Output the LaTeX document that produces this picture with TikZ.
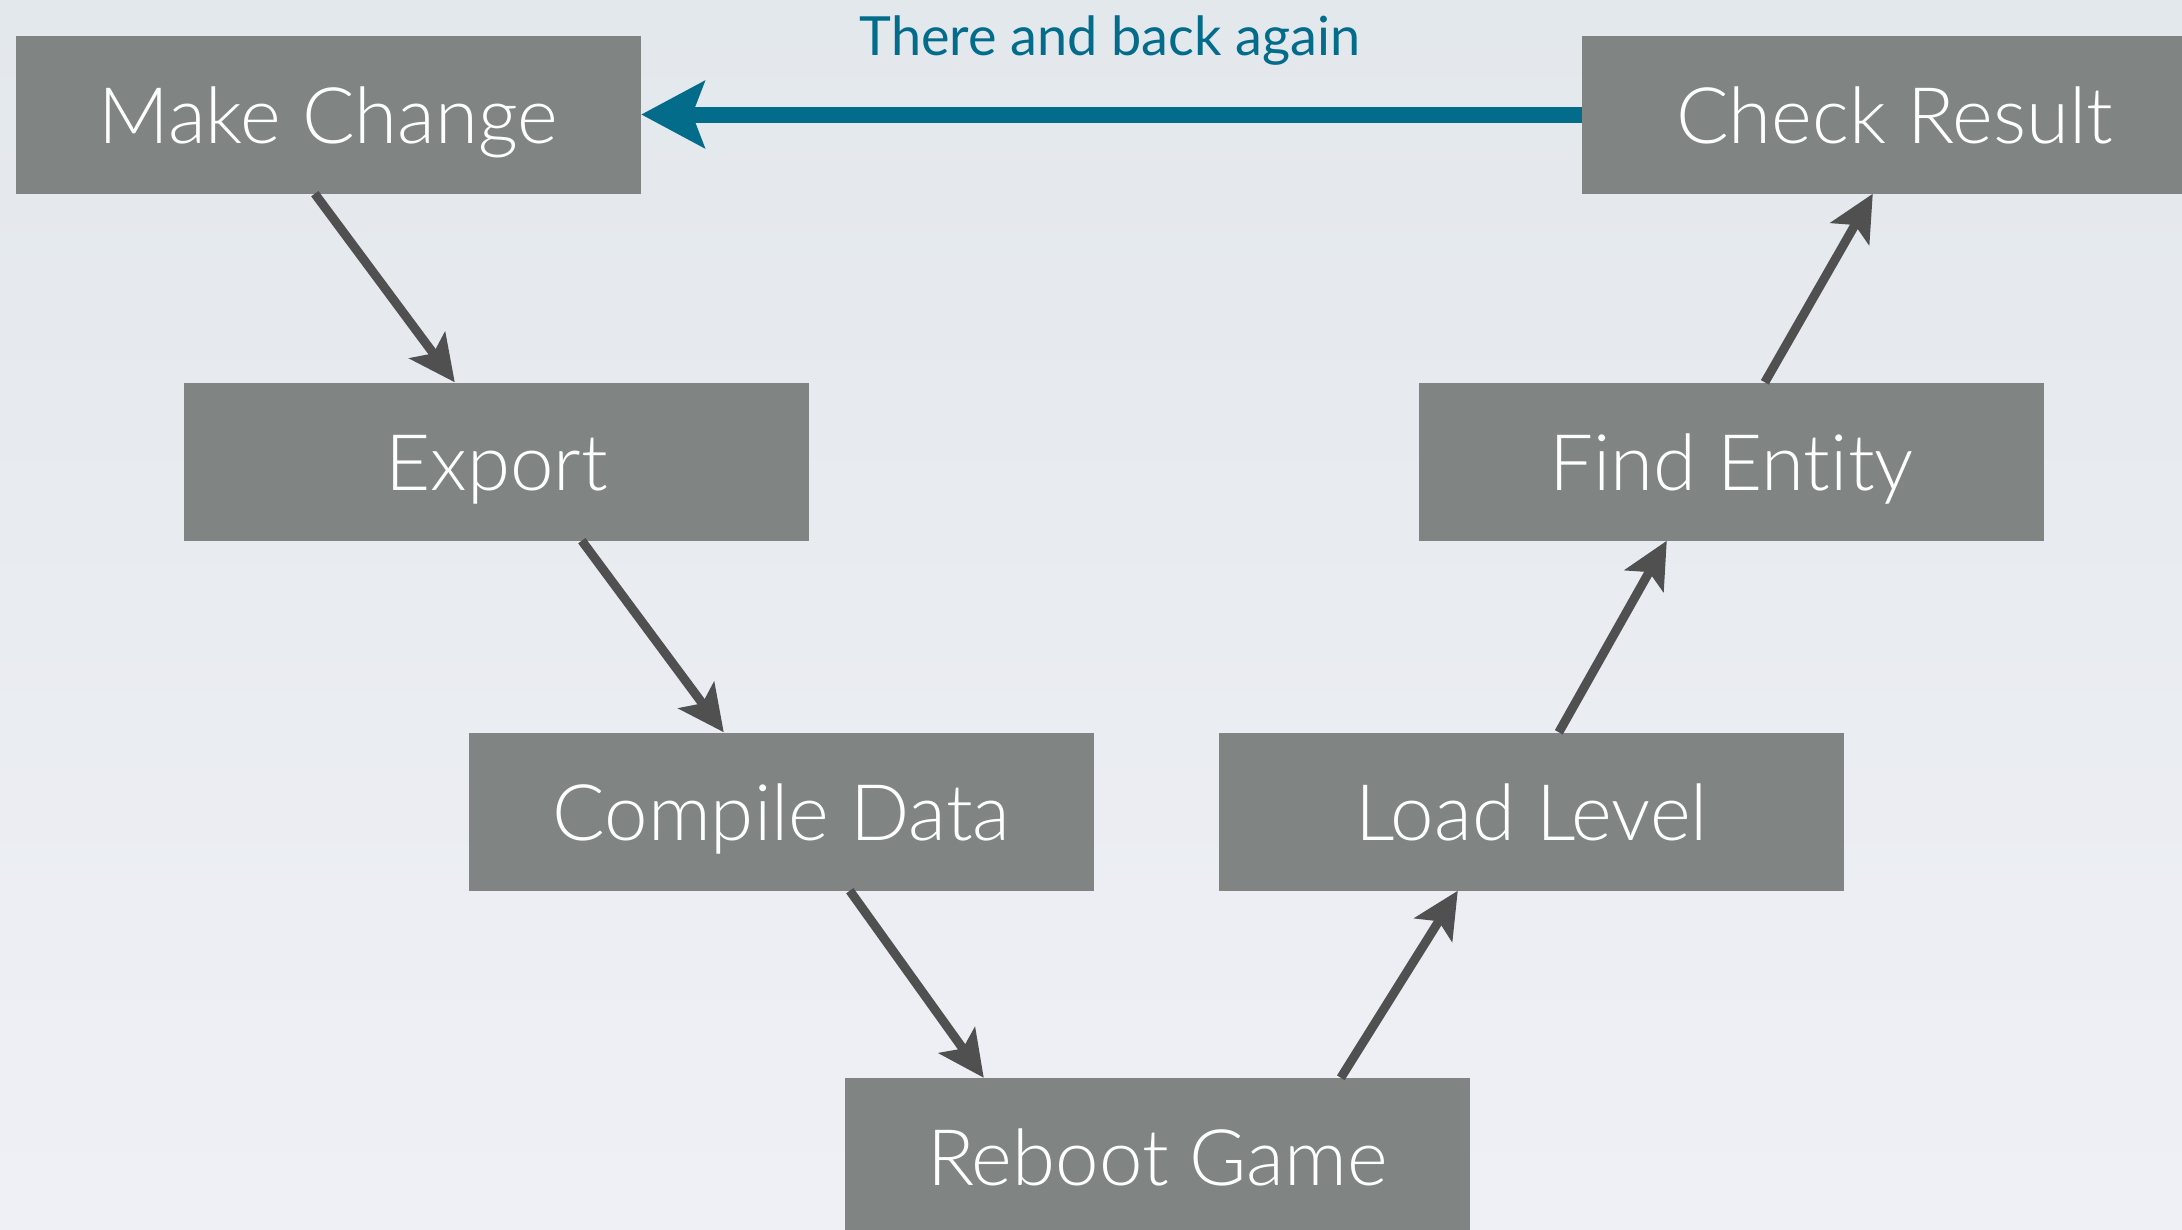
\documentclass[tikz,border=0pt]{standalone}
\usepackage{fontspec}
\setmainfont{Lato}[UprightFont={* Light}, Ligatures=NoCommon]
\newfontfamily\titlefont{Lato}[Ligatures=NoCommon]
\usetikzlibrary{arrows.meta,calc}
\definecolor{boxgray}{HTML}{808584}
\definecolor{arrgray}{HTML}{505050}
\definecolor{tealblue}{HTML}{036C8B}
\definecolor{bgtop}{HTML}{E3E8ED}
\definecolor{bgbot}{HTML}{EFF0F5}
\begin{document}
\begin{tikzpicture}[x=1pt,y=-1pt,
  stepbox/.style={rectangle, fill=boxgray, draw=none, inner sep=0pt,
    minimum width=625pt, minimum height=158pt, text=white,
    font=\fontsize{78}{90}\selectfont, text height=57pt, text depth=0pt},
  garrow/.style={draw=arrgray, line width=9pt,
    -{Stealth[length=46pt, width=44pt, inset=10pt]}},
  barrow/.style={draw=tealblue, line width=16pt,
    -{Stealth[length=63pt, width=66pt, inset=12pt]}},
  ttl/.style={text=tealblue, font=\titlefont\fontsize{54}{64}\selectfont, anchor=base}]
\useasboundingbox (0,0) rectangle (2182,1229);
\clip (0,0) rectangle (2182,1229);
\shade[top color=bgtop, bottom color=bgbot] (0,0) rectangle (2182,1229);
\node[stepbox] (mc) at (328.5,114.5) {Make Change};
\node[stepbox] (ex) at (496.5,461.5) {Export};
\node[stepbox] (cd) at (781.5,811.5) {Compile Data};
\node[stepbox] (rg) at (1157.5,1157) {Reboot Game};
\node[stepbox] (ll) at (1531.5,811.5) {Load Level};
\node[stepbox] (fe) at (1731.5,461.5) {Find Entity};
\node[stepbox] (cr) at (1894.5,114.5) {Check Result};
\node[ttl] (title) at (1110,55) {There and back again};
\draw[barrow] (cr.west) -- (mc.east);
\draw[garrow] ($(mc.south west)+(299,0)$) -- ($(ex.north west)+(271,0)$);
\draw[garrow] ($(ex.south west)+(398,0)$) -- ($(cd.north west)+(255,0)$);
\draw[garrow] ($(cd.south west)+(381,0)$) -- ($(rg.north west)+(139,0)$);
\draw[garrow] ($(rg.north west)+(496,0)$) -- ($(ll.south west)+(239,0)$);
\draw[garrow] ($(ll.north west)+(340,0)$) -- ($(fe.south west)+(248,0)$);
\draw[garrow] ($(fe.north west)+(346,0)$) -- ($(cr.south west)+(291,0)$);
\end{tikzpicture}
\end{document}
